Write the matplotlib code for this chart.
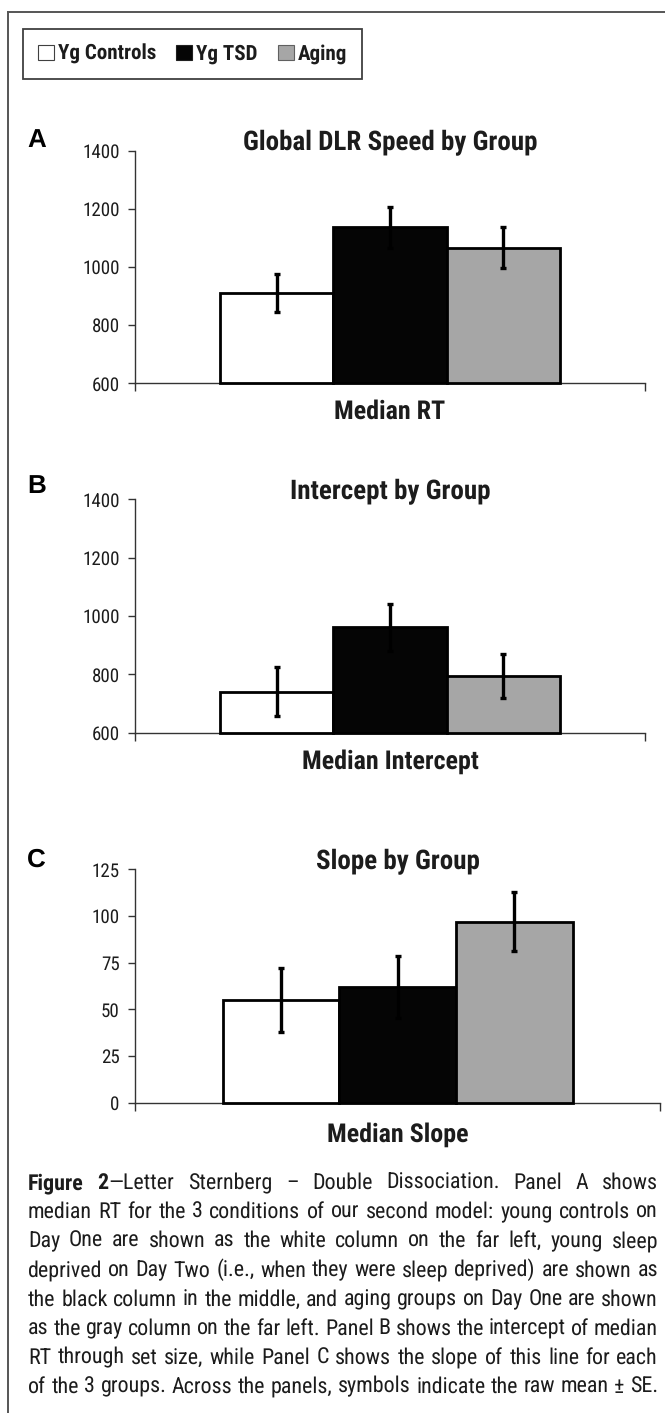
import matplotlib
matplotlib.use('Agg')
import matplotlib.pyplot as plt
from matplotlib import font_manager as fm
from matplotlib.patches import Patch
from matplotlib.lines import Line2D

# ---------------- data ----------------
groups = ['Yg Controls', 'Yg TSD', 'Aging']
bar_colors = ['#ffffff', '#050505', '#a6a6a6']
legend_edges = ['#404040', '#202020', '#606060']

panel_letters = ['A', 'B', 'C']
panel_titles = ['Global DLR Speed by Group', 'Intercept by Group', 'Slope by Group']
panel_xlabels = ['Median RT', 'Median Intercept', 'Median Slope']

rt_mean = [910, 1136, 1067]
rt_se = [65, 69, 70]
intercept_mean = [741, 961, 795]
intercept_se = [83, 80, 76]
slope_mean = [55, 62, 97]
slope_se = [17, 16.5, 16]

yticks_ab = [600, 800, 1000, 1200, 1400]
yticks_c = [0, 25, 50, 75, 100, 125]

caption_bold = 'Figure 2'
caption_lines = [
    'Figure 2\u2014Letter Sternberg \u2013 Double Dissociation. Panel A shows',
    'median RT for the 3 conditions of our second model: young controls on',
    'Day One are shown as the white column on the far left, young sleep',
    'deprived on Day Two (i.e., when they were sleep deprived) are shown as',
    'the black column in the middle, and aging groups on Day One are shown',
    'as the gray column on the far left. Panel B shows the intercept of median',
    'RT through set size, while Panel C shows the slope of this line for each',
    'of the 3 groups. Across the panels, symbols indicate the raw mean \u00b1 SE.',
]

# ---------------- fonts ----------------
names = {f.name for f in fm.fontManager.ttflist}
cands = ['Liberation Sans Narrow', 'Arial Narrow', 'Nimbus Sans Narrow',
         'Roboto Condensed', 'Open Sans Condensed', 'Liberation Sans']
FONT = next((c for c in cands if c in names), 'DejaVu Sans')
LETTER_FONT = 'Liberation Sans' if 'Liberation Sans' in names else FONT
plt.rcParams['font.family'] = [FONT, 'DejaVu Sans']
plt.rcParams['text.hinting'] = 'no_hinting'
plt.rcParams['text.hinting_factor'] = 1
TXT = '#1c1c1c'

W, H, DPI = 665, 1413, 100
fig = plt.figure(figsize=(W / DPI, H / DPI), dpi=DPI)
fig.patch.set_facecolor('white')
renderer = fig.canvas.get_renderer()


def fx(px):
    return px / W


def fy(py):
    return 1 - py / H


def measure(s, size, weight='normal', family=None):
    t = fig.text(0, 0, s, fontsize=size, fontweight=weight,
                 family=[family or FONT, 'DejaVu Sans'])
    w = t.get_window_extent(renderer=renderer).width
    t.remove()
    return w


def fit(strings, targets, weight, ref=10.0):
    sizes = [ref * t / measure(s, ref, weight) for s, t in zip(strings, targets)]
    return sum(sizes) / len(sizes)


title_size = fit(panel_titles, [295, 197, 163], 'bold')
xlabel_size = fit(panel_xlabels, [108, 176, 142], 'bold')
legend_size = fit(groups, [98, 62, 51], 'bold')
tick_size = fit(['1400', '1200', '125'], [37.7, 37.7, 28.5], 'normal')

# ---------------- outer frame (cropped box) ----------------
fig.add_artist(Line2D([fx(8), fx(8)], [fy(12), 0], transform=fig.transFigure,
                      color='#555555', lw=1.4))
fig.add_artist(Line2D([fx(8), 1], [fy(12), fy(12)], transform=fig.transFigure,
                      color='#555555', lw=1.4))

# ---------------- legend ----------------
fs_px = legend_size * DPI / 72
handles = [Patch(facecolor=c, edgecolor=e, linewidth=0.8)
           for c, e in zip(bar_colors, legend_edges)]
leg = fig.legend(handles, groups, loc='upper left',
                 bbox_to_anchor=(fx(23), fy(29)), bbox_transform=fig.transFigure,
                 ncol=3, frameon=True, fancybox=False, framealpha=1,
                 edgecolor='#404040', borderaxespad=0,
                 prop=dict(family=[FONT, 'DejaVu Sans'], weight='bold', size=legend_size),
                 handlelength=16 / fs_px, handleheight=16 / fs_px,
                 handletextpad=4 / fs_px, columnspacing=20 / fs_px,
                 borderpad=15 / fs_px, labelcolor=TXT)
leg.get_frame().set_linewidth(1.3)

# ---------------- panels ----------------
panels = [
    dict(box=(135, 645, 150.7, 383.3), mean=rt_mean, se=rt_se, yticks=yticks_ab,
         letter_base=147, xlabel_base=418.5),
    dict(box=(135, 645, 499.3, 732.7), mean=intercept_mean, se=intercept_se,
         yticks=yticks_ab, letter_base=493, xlabel_base=769),
    dict(box=(135, 660, 869.3, 1102.7), mean=slope_mean, se=slope_se, yticks=yticks_c,
         letter_base=866.5, xlabel_base=1141.5),
]

bar_w = 2 / 9
offsets = [-bar_w, 0, bar_w]

for i, p in enumerate(panels):
    l, r, t, b = p['box']
    ax = fig.add_axes([fx(l), fy(b), (r - l) / W, (b - t) / H])
    ymin, ymax = p['yticks'][0], p['yticks'][-1]
    heights = [m - ymin for m in p['mean']]
    ax.bar(offsets, heights, width=bar_w, bottom=ymin, color=bar_colors,
           edgecolor='black', linewidth=2.0, clip_on=False, zorder=3)
    ax.errorbar(offsets, p['mean'], yerr=p['se'], fmt='none', ecolor='black',
                elinewidth=2.4, capsize=2.4, capthick=2.4, zorder=4)
    ax.set_xlim(-0.5, 0.5)
    ax.set_ylim(ymin, ymax)
    ax.set_yticks(p['yticks'])
    ax.set_xticks([-0.5, 0.5])
    ax.set_xticklabels(['', ''])
    for s in ['top', 'right']:
        ax.spines[s].set_visible(False)
    for s in ['left', 'bottom']:
        ax.spines[s].set_color('#333333')
        ax.spines[s].set_linewidth(1.0)
    ax.tick_params(axis='y', direction='out', length=5, width=1.0, color='#333333',
                   pad=6, labelsize=tick_size, labelcolor=TXT)
    ax.tick_params(axis='x', direction='out', length=6, width=1.0, color='#333333')
    ax.patch.set_alpha(0)

    ax.text(0.5, 1.0, panel_titles[i], transform=ax.transAxes, ha='center',
            va='baseline', fontsize=title_size, fontweight='bold', color=TXT)
    fig.text(fx((l + r) / 2), fy(p['xlabel_base']), panel_xlabels[i], ha='center',
             va='baseline', fontsize=xlabel_size, fontweight='bold', color=TXT)
    fig.text(fx(27), fy(p['letter_base']), panel_letters[i], ha='left', va='baseline',
             fontsize=19, fontweight='bold', family=[LETTER_FONT, 'DejaVu Sans'],
             color='black')

# ---------------- justified caption ----------------
cap_left, cap_right = 28, 658
cap_width = cap_right - cap_left
first_base, line_gap = 1189, 29.1


def tokenize(line, bold_len):
    tokens = []
    pos = 0
    for word in line.split(' '):
        start = line.index(word, pos)
        end = start + len(word)
        pos = end
        segs = []
        if start < bold_len:
            cut = min(end, bold_len)
            segs.append((line[start:cut], 'bold'))
            if cut < end:
                segs.append((line[cut:end], 'normal'))
        else:
            segs.append((word, 'normal'))
        tokens.append(segs)
    return tokens


token_lines = [tokenize(line, len(caption_bold) if k == 0 else 0)
               for k, line in enumerate(caption_lines)]


def natural_width(size):
    space = measure('n n', size) - measure('nn', size)
    widest = 0
    for toks in token_lines:
        w = sum(measure(s, size, wt) for seg in toks for s, wt in seg)
        w += space * (len(toks) - 1)
        widest = max(widest, w)
    return widest


ref = 15.0
cap_size = min(15.5, ref * cap_width * 0.995 / natural_width(ref))

for k, toks in enumerate(token_lines):
    widths = [[measure(s, cap_size, wt) for s, wt in seg] for seg in toks]
    total = sum(sum(w) for w in widths)
    gap = (cap_width - total) / (len(toks) - 1)
    x = cap_left
    base = first_base + k * line_gap
    for seg, ws in zip(toks, widths):
        for (s, wt), w in zip(seg, ws):
            fig.text(fx(x), fy(base), s, ha='left', va='baseline', fontsize=cap_size,
                     fontweight=wt, color=TXT)
            x += w
        x += gap

fig.savefig('out.png', dpi=DPI, facecolor='white')
